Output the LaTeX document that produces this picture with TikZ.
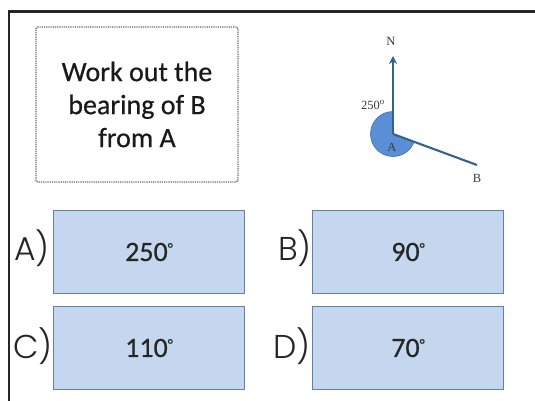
\documentclass[tikz,border=0pt]{standalone}
\usepackage{fontspec}
\setmainfont{Carlito}[RawFeature={embolden=0.5}]
\newfontfamily\gothic{Poppins Light}
\newfontfamily\serifx{Liberation Serif}
\usetikzlibrary{arrows.meta}
\definecolor{frameblack}{HTML}{262626}
\definecolor{boxfill}{HTML}{C5D7EE}
\definecolor{boxline}{HTML}{5F80A8}
\definecolor{sector}{HTML}{5A8FD6}
\definecolor{sectorline}{HTML}{3D6DA8}
\definecolor{ray}{HTML}{34628F}
\definecolor{smalltext}{HTML}{3A3A3A}
\newcommand{\degmark}{\raisebox{0.27em}{\fontsize{15}{15}\selectfont\textdegree}}
\tikzset{
  answer/.style={draw=boxline,fill=boxfill,line width=1.8pt,minimum width=191pt,minimum height=83pt,inner sep=0pt,font=\fontsize{28}{30}\selectfont,text=black!85},
  letter/.style={font=\gothic\fontsize{33}{36}\selectfont,text=black!85,inner sep=0pt},
  small/.style={font=\serifx\fontsize{12.5}{14}\selectfont,text=smalltext,inner sep=0pt},
  rayline/.style={draw=ray,line width=2.1pt}
}
\begin{document}
\begin{tikzpicture}[x=1pt,y=-1pt]
\useasboundingbox (0,0) rectangle (535,401);
\fill[white] (0,0) rectangle (535,401);
\draw[frameblack,line width=2.6pt] (9,401) -- (9,11.5) -- (535,11.5);
\node[draw=black!60,densely dotted,line width=1.2pt,minimum width=202pt,minimum height=155pt,rounded corners=1.5pt,align=center,inner sep=0pt,font=\fontsize{28}{33}\selectfont,text=black!90] (q) at (137,104.5) {Work out the\\bearing of B\\from A};
\node[answer] (a) at (149,252) {250\degmark};
\node[answer] (b) at (408,252) {90\degmark};
\node[answer] (c) at (149,348) {110\degmark};
\node[answer] (d) at (408,348) {70\degmark};
\node[letter,anchor=east] (la) at (50,248.5) {A)};
\node[letter,anchor=east] (lb) at (312,248.5) {B)};
\node[letter,anchor=east] (lc) at (53,346) {C)};
\node[letter,anchor=east] (ld) at (311,346) {D)};
\coordinate (A) at (393,134);
\coordinate (Ntip) at (393,56);
\coordinate (Bend) at (477,165);
\fill[sector,draw=sectorline,line width=0.6pt] (A) -- ++(0,-22.5) arc[start angle=90,end angle=340,radius=22.5pt] -- cycle;
\draw[rayline,-{Stealth[length=8pt,width=8pt]}] (A) -- (Ntip);
\draw[rayline] (A) -- (Bend);
\node[small] (n) at (391,41) {N};
\node[small] (ang) at (373,105) {250\textsuperscript{o}};
\node[small] (ptA) at (392,147) {A};
\node[small] (ptB) at (477,178) {B};
\end{tikzpicture}
\end{document}
